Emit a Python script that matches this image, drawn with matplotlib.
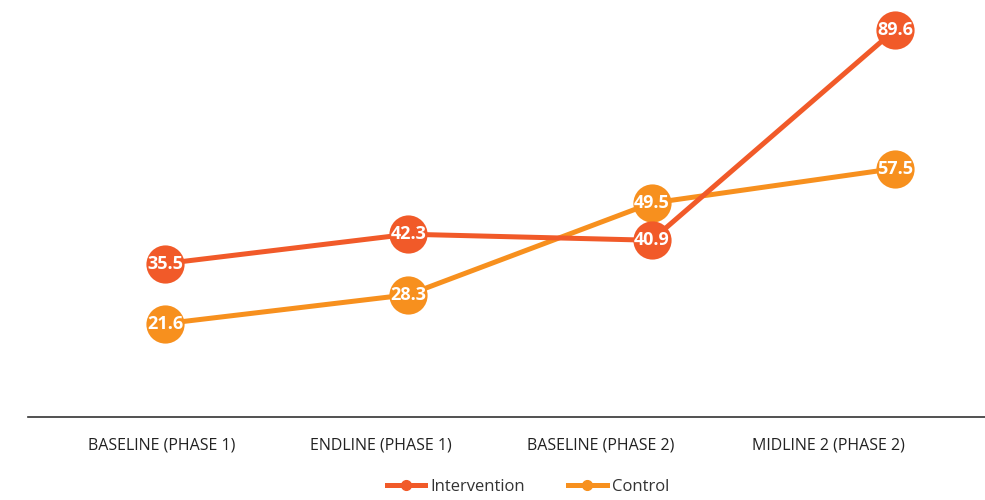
import matplotlib
matplotlib.use("Agg")
import matplotlib.pyplot as plt

# Survey rounds and the share (%) for each arm
rounds = ["BASELINE (PHASE 1)", "ENDLINE (PHASE 1)", "BASELINE (PHASE 2)", "MIDLINE 2 (PHASE 2)"]
intervention = [35.5, 42.3, 40.9, 89.6]
control = [21.6, 28.3, 49.5, 57.5]

colors = {"Intervention": "#F15A29", "Control": "#F7901E"}

plt.rcParams["font.family"] = ["Open Sans", "DejaVu Sans"]

fig = plt.figure(figsize=(9.85, 5.0), dpi=100)
ax = fig.add_axes([28 / 985, 1 - 417 / 500, 1 - 28 / 985, 417 / 500])

x = list(range(len(rounds)))
for name, vals in [("Control", control), ("Intervention", intervention)]:
    ax.plot(x, vals, color=colors[name], lw=3.6, marker="o", ms=27.5,
            markeredgewidth=0, label=name, solid_capstyle="butt", zorder=2)
    for xi, v in zip(x, vals):
        ax.text(xi, v, f"{v:.1f}", color="white", fontsize=13, fontweight="bold",
                ha="center", va="center", zorder=3)

ax.set_xlim(-0.563, 3.37)
ax.set_ylim(0, 96.5)
# category labels sit on a slightly tighter grid than the points
ax.set_xticks([-0.012, 0.888, 1.79, 2.725])
ax.set_xticklabels(rounds, fontsize=11.5, color="#222222")
ax.tick_params(axis="x", length=0, pad=15)
ax.set_yticks([])
for side in ["left", "right", "top"]:
    ax.spines[side].set_visible(False)
ax.spines["bottom"].set_color("#333333")
ax.spines["bottom"].set_linewidth(1.2)

# legend with small dots on the line, Intervention first
handles = [plt.Line2D([], [], color=colors[n], lw=3.6, marker="o", ms=7) for n in ["Intervention", "Control"]]
fig.legend(handles, ["Intervention", "Control"], loc="center", bbox_to_anchor=(0.536, 0.026),
           ncol=2, frameon=False, fontsize=12, handlelength=2.3, columnspacing=2.6,
           handletextpad=0.3, labelcolor="#333333")

fig.savefig("out.png", dpi=100)
